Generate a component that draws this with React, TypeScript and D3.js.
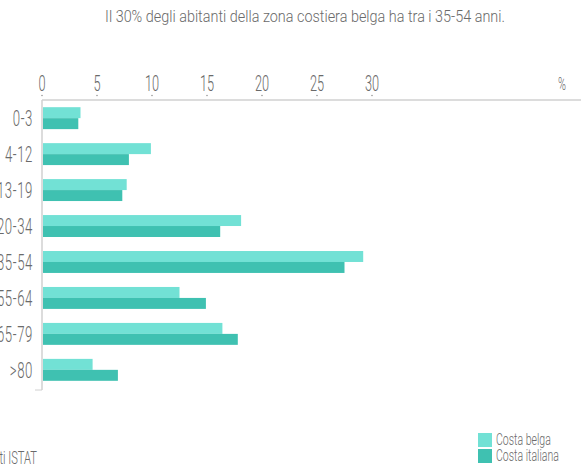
import React from "react";
import * as d3 from "d3";

const categories = ["0-3", "4-12", "13-19", "20-34", "35-54", "55-64", "65-79", ">80"];
const seriesNames = ["Costa belga", "Costa italiana"];
const lightValues = [3.5, 9.9, 7.7, 18.1, 29.2, 12.5, 16.4, 4.6];
const darkValues = [3.3, 7.9, 7.3, 16.2, 27.5, 14.9, 17.8, 6.9];
const tickValues = [0, 5, 10, 15, 20, 25, 30];

const W = 581;
const H = 472;
const FONT = "Roboto, 'Liberation Sans', sans-serif";
const LIGHT = "#72e1d5";
const DARK = "#3fc1b1";
const TEXT = "#6a6a6a";

const squeeze = (cx: number, s: number) => `translate(${cx},0) scale(${s},1) translate(${-cx},0)`;

export default function App() {
  const x = d3.scaleLinear().domain([0, 30]).range([42, 372]);
  const y = d3.scaleBand().domain(categories).range([100, 388]).paddingInner(0.39).paddingOuter(0.2);
  const sub = d3.scaleBand().domain(seriesNames).range([0, y.bandwidth()]);

  return (
    <svg width={W} height={H} style={{ position: "absolute", left: 0, top: 0, background: "#fff" }}>
      <text x={305} y={22} textAnchor="middle" fontFamily={FONT} fontWeight={300} fontSize={16} fill={TEXT}
        transform={squeeze(305, 0.9)}>
        Il 30% degli abitanti della zona costiera belga ha tra i 35-54 anni.
      </text>
      {tickValues.map((t) => (
        <g key={t}>
          <text x={x(t)} y={91} textAnchor="middle" fontFamily={FONT} fontWeight={300} fontSize={22} fill={TEXT}
            transform={squeeze(x(t), 0.58)}>
            {t}
          </text>
          <circle cx={x(t)} cy={95.5} r={0.8} fill="#999" />
        </g>
      ))}
      <text x={562} y={90} textAnchor="middle" fontFamily={FONT} fontWeight={300} fontSize={18} fill={TEXT}
        transform={squeeze(562, 0.6)}>%</text>
      <line x1={42} x2={W} y1={100} y2={100} stroke="#d0d0d0" strokeWidth={1.5} />
      <line x1={42} x2={42} y1={100} y2={390} stroke="#d0d0d0" strokeWidth={1.5} />
      <line x1={35} x2={42} y1={390} y2={390} stroke="#d0d0d0" strokeWidth={1} />
      {categories.map((c, i) => {
        const y0 = y(c) as number;
        return (
          <g key={c}>
            <rect x={x(0) + 1} y={y0 + (sub(seriesNames[0]) as number)} width={x(lightValues[i]) - x(0) - 1}
              height={sub.bandwidth()} fill={LIGHT} />
            <rect x={x(0) + 1} y={y0 + (sub(seriesNames[1]) as number)} width={x(darkValues[i]) - x(0) - 1}
              height={sub.bandwidth()} fill={DARK} />
            <text x={33} y={y0 + y.bandwidth() / 2 + 8} textAnchor="end" fontFamily={FONT} fontWeight={300} fontSize={22}
              letterSpacing={1} fill={TEXT} transform={squeeze(33, 0.6)}>
              {c}
            </text>
          </g>
        );
      })}
      <text x={37} y={464} textAnchor="end" fontFamily={FONT} fontWeight={300} fontSize={18} fill={TEXT}
        transform={squeeze(37, 0.62)}>
        Fonte: dati ISTAT
      </text>
      {seriesNames.map((s, i) => (
        <g key={s}>
          <rect x={478} y={433 + i * 16} width={14} height={14} fill={i === 0 ? LIGHT : DARK} />
          <text x={496} y={445 + i * 16} fontFamily={FONT} fontWeight={300} fontSize={17} fill={TEXT}
            transform={squeeze(496, 0.62)}>
            {s}
          </text>
        </g>
      ))}
    </svg>
  );
}
